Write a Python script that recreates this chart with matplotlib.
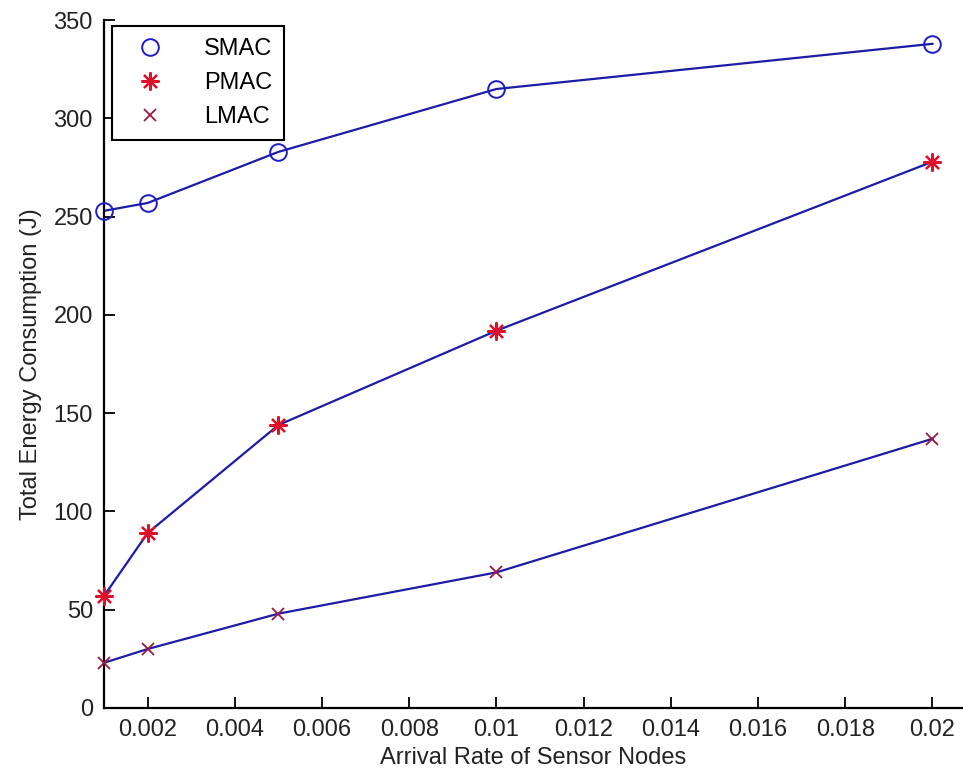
import matplotlib
matplotlib.use("Agg")
import matplotlib.pyplot as plt
from matplotlib.ticker import FixedLocator, FormatStrFormatter

# arrival rates and total energy per protocol
rates = [0.001, 0.002, 0.005, 0.01, 0.02]
smac = [253, 257, 283, 315, 338]
pmac = [57, 89, 144, 192, 278]
lmac = [23, 30, 48, 69, 137]

x_ticks = [0.002, 0.004, 0.006, 0.008, 0.010, 0.012, 0.014, 0.016, 0.018, 0.020]
y_ticks = [0, 50, 100, 150, 200, 250, 300, 350]

plt.rcParams["font.family"] = ["Liberation Sans", "DejaVu Sans"]

fig = plt.figure(figsize=(9.63, 7.78), dpi=100)
ax = fig.add_axes([0.108, 0.09, 0.892, 0.884])

line_color = "#1c1ca8"
for ys in (smac, pmac, lmac):
    ax.plot(rates, ys, color=line_color, linewidth=1.6, zorder=2)

ax.plot(rates, smac, linestyle="none", marker="o", markersize=12,
        markerfacecolor="none", markeredgecolor="#1c1cc8", markeredgewidth=1.4,
        label="SMAC", zorder=3, clip_on=False)
ax.plot(rates, pmac, linestyle="none", marker=(8, 2, 0), markersize=13,
        markeredgecolor="#e0102a", markeredgewidth=1.6, label="PMAC", zorder=3,
        clip_on=False)
ax.plot(rates, lmac, linestyle="none", marker="x", markersize=8,
        markeredgecolor="#a01840", markeredgewidth=1.3, label="LMAC", zorder=3,
        clip_on=False)

ax.set_xlim(0.001, 0.0207)
ax.set_ylim(0, 350)
ax.xaxis.set_major_locator(FixedLocator(x_ticks))
ax.yaxis.set_major_locator(FixedLocator(y_ticks))
ax.xaxis.set_major_formatter(FormatStrFormatter("%g"))

ax.spines["top"].set_visible(False)
ax.spines["right"].set_visible(False)
for side in ("left", "bottom"):
    ax.spines[side].set_linewidth(1.6)
ax.tick_params(direction="in", length=8, width=1.3, labelsize=17, pad=8,
               labelcolor="#222222")

ax.set_xlabel("Arrival Rate of Sensor Nodes", fontsize=17, labelpad=4, color="#222222")
ax.set_ylabel("Total Energy Consumption (J)", fontsize=17, labelpad=8, color="#222222")

leg = ax.legend(loc="upper left", bbox_to_anchor=(0.009, 0.991), borderaxespad=0,
                fontsize=17, fancybox=False, framealpha=1, edgecolor="black",
                handlelength=2.2, handletextpad=1.2, labelspacing=0.5,
                borderpad=0.5, numpoints=1)
leg.get_frame().set_linewidth(1.5)
leg.set_zorder(5)

fig.savefig("out.png", dpi=100)
plt.close(fig)
